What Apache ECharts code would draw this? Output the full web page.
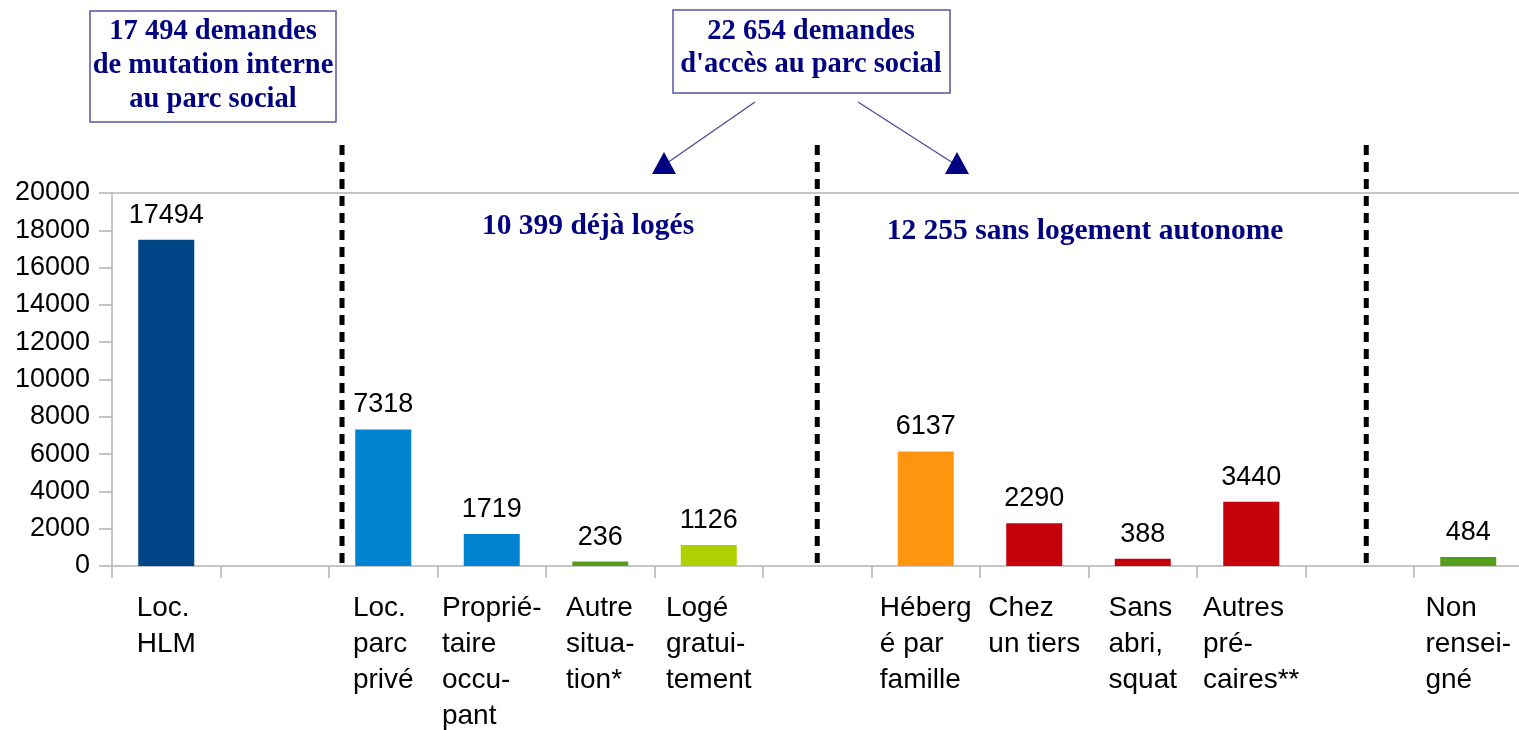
<!DOCTYPE html>
<html>
<head>
<meta charset="utf-8">
<script src="https://cdn.jsdelivr.net/npm/echarts@6/dist/echarts.min.js"></script>
<style>
html,body{margin:0;padding:0;background:#fff;}
#chart{width:1519px;height:730px;}
</style>
</head>
<body>
<div id="chart"></div>
<script>
// ---- data ----
const categories = [
  "Loc.\nHLM", "", "Loc.\nparc\nprivé", "Proprié-\ntaire\noccu-\npant", "Autre\nsitua-\ntion*",
  "Logé\ngratui-\ntement", "", "Héberg\né par\nfamille", "Chez\nun tiers", "Sans\nabri,\nsquat",
  "Autres\npré-\ncaires**", "", "Non\nrensei-\ngné"
];
const values = [17494, null, 7318, 1719, 236, 1126, null, 6137, 2290, 388, 3440, null, 484];
const barColors = ["#004586", null, "#0084d1", "#0084d1", "#579d1c", "#aecf00", null,
                   "#ff950e", "#c5000b", "#c5000b", "#c5000b", null, "#579d1c"];
const yTicks = { min: 0, max: 20000, interval: 2000 };
const boxTexts = [
  ["17 494 demandes", "de mutation interne", "au parc social"],
  ["22 654 demandes", "d'accès au parc social"]
];
const groupTexts = ["10 399 déjà logés", "12 255 sans logement autonome"];
// divider positions in category units
const dividerPos = [1.62, 6, 11.06];

const chart = echarts.init(document.getElementById('chart'), null, {renderer: 'canvas'});
const AX = '#b3b3b3';
const nSplit = Math.round((yTicks.max - yTicks.min) / yTicks.interval) + 1;
const splitColors = [];
for (let i = 0; i < nSplit; i++) splitColors.push(i === nSplit - 1 ? AX : 'rgba(0,0,0,0)');

chart.setOption({
  animation: false,
  backgroundColor: '#fff',
  grid: { left: 112, width: 1410.5, top: 193, height: 373, containLabel: false,
          outerBoundsMode: 'none' },
  xAxis: {
    type: 'category',
    data: categories,
    boundaryGap: true,
    axisLine: { lineStyle: { color: AX, width: 1.5 } },
    axisTick: { show: true, interval: 0, length: 12, lineStyle: { color: AX, width: 1.5 } },
    axisLabel: {
      interval: 0,
      margin: 24,
      align: 'center',
      verticalAlign: 'top',
      formatter: function (v) {
        if (!v) return '';
        return v.split('\n').map(l => '{a|' + l + '}').join('\n');
      },
      rich: {
        a: { align: 'left', fontSize: 28, lineHeight: 36, color: '#000', fontFamily: 'Liberation Sans' }
      }
    }
  },
  yAxis: {
    type: 'value',
    min: yTicks.min, max: yTicks.max, interval: yTicks.interval,
    axisLine: { show: true, lineStyle: { color: AX, width: 1.5 } },
    axisTick: { show: true, length: 13, lineStyle: { color: AX, width: 1.5 } },
    axisLabel: { margin: 22, fontSize: 27, color: '#000', fontFamily: 'Liberation Sans',
                 formatter: v => String(v) },
    splitLine: { show: true, lineStyle: { color: splitColors, width: 1.5 } }
  },
  series: [{
    type: 'bar',
    barWidth: 56,
    data: values.map((v, i) => v === null ? '-' : { value: v, itemStyle: { color: barColors[i] } }),
    label: {
      show: true, position: 'top', distance: 11,
      fontSize: 27, color: '#000', fontFamily: 'Liberation Sans'
    }
  }]
});

function catX(p) {
  const i0 = Math.floor(p), f = p - i0;
  const x0 = chart.convertToPixel({xAxisIndex: 0}, i0);
  if (f === 0) return x0;
  const x1 = chart.convertToPixel({xAxisIndex: 0}, i0 + 1);
  return x0 + (x1 - x0) * f;
}
const yBase = chart.convertToPixel({yAxisIndex: 0}, 0);

const NAVY = '#000080';
const serif = 'Liberation Serif';
const graphics = [];
// dividers
dividerPos.forEach(p => {
  const x = catX(p);
  graphics.push({
    type: 'line', z: 10,
    shape: { x1: x, y1: 145, x2: x, y2: yBase },
    style: { stroke: '#000', lineWidth: 5, lineDash: [10, 7] }
  });
});
// box 1
graphics.push({
  type: 'rect', shape: { x: 90, y: 11, width: 246, height: 111 },
  style: { fill: '#fff', stroke: '#5555a8', lineWidth: 1.5 }
});
boxTexts[0].forEach((t, i) => graphics.push({
  type: 'text', x: 213, y: 32 + i * 34,
  style: { text: t, align: 'center', verticalAlign: 'middle', fill: NAVY,
           font: 'bold 28.5px "' + serif + '"' }
}));
// box 2
graphics.push({
  type: 'rect', shape: { x: 673, y: 10, width: 277, height: 83 },
  style: { fill: '#fff', stroke: '#5555a8', lineWidth: 1.5 }
});
boxTexts[1].forEach((t, i) => graphics.push({
  type: 'text', x: 811, y: 32 + i * 33,
  style: { text: t, align: 'center', verticalAlign: 'middle', fill: NAVY,
           font: 'bold 28.5px "' + serif + '"' }
}));
// arrows
graphics.push({ type: 'line', shape: { x1: 755, y1: 102, x2: 667, y2: 163 },
  style: { stroke: '#4a4a9a', lineWidth: 1.3 } });
graphics.push({ type: 'line', shape: { x1: 858, y1: 102, x2: 953, y2: 163 },
  style: { stroke: '#4a4a9a', lineWidth: 1.3 } });
graphics.push({ type: 'polygon', shape: { points: [[664, 152], [652, 174], [676, 174]] },
  style: { fill: NAVY } });
graphics.push({ type: 'polygon', shape: { points: [[957, 152], [945, 174], [969, 174]] },
  style: { fill: NAVY } });
// group labels
graphics.push({ type: 'text', x: 588, y: 226,
  style: { text: groupTexts[0], align: 'center', verticalAlign: 'middle', fill: NAVY,
           font: 'bold 29.5px "' + serif + '"' } });
graphics.push({ type: 'text', x: 1085, y: 231,
  style: { text: groupTexts[1], align: 'center', verticalAlign: 'middle', fill: NAVY,
           font: 'bold 29.5px "' + serif + '"' } });

chart.setOption({ graphic: { elements: graphics } });
</script>
</body>
</html>
